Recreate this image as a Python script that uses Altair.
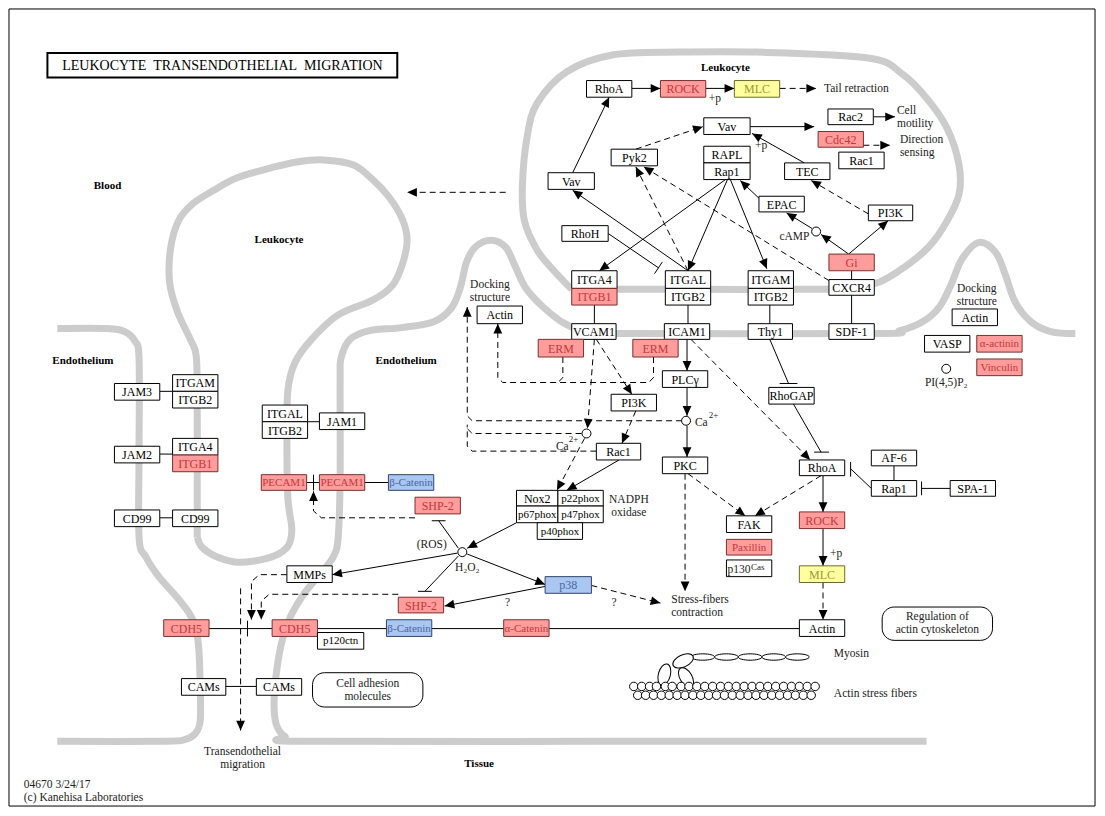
import math
import altair as alt
import pandas as pd

# reference frame in px (y grows downwards)
FRAME_W, FRAME_H = 1105, 816

XS = alt.Scale(domain=[0, FRAME_W], nice=False, zero=False)
YS = alt.Scale(domain=[0, FRAME_H], nice=False, zero=False, reverse=True)

# ---------------- gene boxes: (label, kind, left, top, right, bottom)
leukocyte_boxes = [
    ("RhoA", "plain", 587, 74, 633, 91),
    ("ROCK", "red", 662, 74, 708, 91),
    ("MLC", "yellow", 737, 74, 783, 91),
    ("Vav", "plain", 706, 112, 753, 129),
    ("Pyk2", "plain", 612, 144, 659, 161),
    ("RAPL", "plain", 706, 141, 753, 158),
    ("Rap1", "plain", 706, 158, 753, 175),
    ("Vav", "plain", 548, 168, 595, 185),
    ("RhoH", "plain", 562, 222, 609, 238),
    ("Rac2", "plain", 832, 103, 878, 119),
    ("Cdc42", "red", 822, 126, 868, 142),
    ("Rac1", "plain", 843, 147, 889, 164),
    ("TEC", "plain", 788, 158, 834, 175),
    ("EPAC", "plain", 762, 192, 808, 208),
    ("PI3K", "plain", 873, 201, 918, 217),
    ("Gi", "red", 833, 251, 879, 268),
    ("CXCR4", "plain", 833, 277, 879, 293),
    ("ITGA4", "plain", 572, 268, 618, 286),
    ("ITGB1", "red", 572, 286, 618, 303),
    ("ITGAL", "plain", 667, 268, 713, 286),
    ("ITGB2", "plain", 667, 286, 713, 303),
    ("ITGAM", "plain", 751, 268, 797, 286),
    ("ITGB2", "plain", 751, 286, 797, 303),
]

endothelium_boxes = [
    ("Actin", "plain", 476, 304, 522, 322),
    ("VCAM1", "plain", 572, 322, 617, 338),
    ("ERM", "red", 538, 338, 584, 356),
    ("ICAM1", "plain", 666, 322, 712, 338),
    ("ERM", "red", 634, 338, 680, 356),
    ("Thy1", "plain", 751, 322, 796, 338),
    ("SDF-1", "plain", 833, 322, 879, 338),
    ("Actin", "plain", 958, 307, 1004, 324),
    ("VASP", "plain", 930, 334, 976, 351),
    ("α-actinin", "red", 983, 334, 1029, 351),
    ("Vinculin", "red", 983, 358, 1029, 375),
    ("PLCγ", "plain", 664, 370, 710, 387),
    ("PI3K", "plain", 612, 394, 658, 411),
    ("RhoGAP", "plain", 772, 387, 818, 404),
    ("Rac1", "plain", 597, 444, 642, 461),
    ("PKC", "plain", 664, 458, 710, 475),
    ("RhoA", "plain", 803, 461, 849, 477),
    ("AF-6", "plain", 876, 451, 922, 467),
    ("Rap1", "plain", 876, 482, 922, 498),
    ("SPA-1", "plain", 956, 482, 1002, 498),
    ("Nox2", "plain", 516, 492, 558, 508),
    ("p22phox", "plain", 558, 492, 604, 508),
    ("p67phox", "plain", 516, 508, 558, 525),
    ("p47phox", "plain", 558, 508, 604, 525),
    ("p40phox", "plain", 537, 525, 583, 542),
    ("SHP-2", "red", 413, 499, 459, 516),
    ("FAK", "plain", 729, 518, 775, 535),
    ("Paxillin", "red", 729, 542, 775, 558),
    ("", "plain", 729, 563, 775, 580),
    ("ROCK", "red", 803, 514, 849, 531),
    ("MLC", "yellow", 803, 569, 849, 586),
    ("p38", "blue", 545, 580, 592, 597),
    ("SHP-2", "red", 396, 601, 442, 617),
]

junction_boxes = [
    ("JAM3", "plain", 108, 383, 154, 400),
    ("ITGAM", "plain", 167, 374, 213, 391),
    ("ITGB2", "plain", 167, 391, 213, 408),
    ("JAM2", "plain", 108, 447, 154, 464),
    ("ITGA4", "plain", 167, 439, 213, 456),
    ("ITGB1", "red", 167, 456, 213, 473),
    ("CD99", "plain", 108, 512, 154, 529),
    ("CD99", "plain", 167, 512, 213, 529),
    ("ITGAL", "plain", 258, 405, 304, 422),
    ("ITGB2", "plain", 258, 422, 304, 439),
    ("JAM1", "plain", 316, 413, 362, 430),
    ("PECAM1", "red", 257, 476, 303, 492),
    ("PECAM1", "red", 316, 476, 362, 492),
    ("β-Catenin", "blue", 386, 476, 432, 492),
    ("MMPs", "plain", 283, 569, 329, 586),
    ("CDH5", "red", 158, 624, 204, 641),
    ("CDH5", "red", 268, 624, 314, 641),
    ("p120ctn", "plain", 314, 637, 361, 654),
    ("β-Catenin", "blue", 384, 624, 430, 641),
    ("α-Catenin", "red", 503, 624, 549, 641),
    ("Actin", "plain", 803, 624, 849, 641),
    ("CAMs", "plain", 176, 684, 221, 701),
    ("CAMs", "plain", 252, 684, 298, 701),
]

small_labels = {"α-actinin", "Vinculin", "Paxillin", "β-Catenin", "α-Catenin",
                "p22phox", "p67phox", "p47phox", "p40phox", "PECAM1", "p120ctn"}

kinds = ["plain", "red", "yellow", "blue"]
kind_fill = ["#ffffff", "#ff9c9c", "#ffff9e", "#a9c7f0"]
kind_edge = ["#000000", "#7a3030", "#6e6a30", "#33436e"]
kind_text = ["#000000", "#c23a3a", "#9c963a", "#4a66a6"]

# ---------------- gray membranes (outline points)
leukocyte_top = [(572, 287), (553, 267), (537, 247), (524, 217), (522, 180), (527, 130),
                 (537, 97), (567, 65), (613, 48), (680, 45), (760, 45), (873, 51),
                 (907, 67), (933, 93), (953, 123), (965, 160), (965, 190), (953, 217),
                 (935, 243), (910, 264), (883, 280), (850, 286), (800, 287), (700, 287),
                 (620, 287), (572, 287)]
leukocyte_mid = [(192, 540), (192, 480), (192, 400), (191, 355), (185, 338), (172, 310),
                 (164, 280), (165, 245), (173, 217), (187, 200), (207, 187), (233, 173),
                 (267, 163), (293, 157), (320, 155), (350, 160), (370, 175), (386, 192),
                 (400, 215), (405, 237), (400, 262), (390, 283), (370, 298), (335, 313),
                 (308, 338), (291, 362), (284, 390), (283, 440), (284, 500), (288, 532),
                 (284, 549), (270, 559), (250, 564), (230, 565), (210, 559), (197, 550),
                 (192, 540)]
endothelium_left = [(50, 327), (100, 327), (118, 330), (129, 340), (133, 358), (133, 450),
                    (133, 540), (140, 560), (153, 580), (173, 603), (187, 623), (193, 647),
                    (195, 690), (195, 727), (190, 740), (180, 746), (160, 748), (50, 748)]
endothelium_right = [(932, 748), (600, 748), (300, 748), (281, 743), (272, 730), (270, 707),
                     (273, 673), (279, 642), (287, 620), (300, 598), (317, 577), (330, 560),
                     (335, 540), (337, 480), (337, 380), (338, 357), (347, 338), (367, 329),
                     (400, 326), (432, 320), (450, 306), (459, 285), (465, 260), (474, 244),
                     (490, 237), (505, 244), (514, 262), (525, 285), (543, 305), (565, 322),
                     (590, 331), (620, 332), (880, 332), (905, 329), (928, 320), (945, 305),
                     (957, 282), (968, 256), (985, 239), (1002, 249), (1012, 272),
                     (1022, 300), (1038, 320), (1058, 330), (1083, 332)]
membranes = [leukocyte_top, leukocyte_mid, endothelium_left, endothelium_right]

# ---------------- relations
solid_arrows = [
    [(633, 82), (662, 82)], [(708, 82), (737, 82)], [(573, 168), (610, 91)],
    [(753, 121), (818, 121)], [(808, 158), (755, 128)], [(878, 111), (900, 111)],
    [(853, 251), (893, 217)], [(816, 225), (790, 209)], [(853, 251), (825, 231)],
    [(762, 194), (743, 176)], [(690, 268), (573, 186)], [(728, 175), (600, 268)],
    [(730, 175), (690, 268)], [(733, 175), (770, 266)], [(689, 338), (689, 370)],
    [(689, 387), (689, 416)], [(689, 426), (689, 458)], [(620, 461), (567, 492)],
    [(827, 477), (827, 514)], [(827, 531), (827, 569)], [(516, 525), (466, 551)],
    [(466, 557), (545, 588)], [(456, 556), (329, 578)], [(545, 590), (443, 610)],
]
dashed_arrows = [
    [(783, 82), (820, 82)], [(868, 140), (895, 140)], [(637, 144), (705, 121)],
    [(873, 210), (815, 176)], [(833, 278), (645, 162)], [(690, 268), (637, 162)],
    [(505, 188), (405, 188)],
    [(655, 356), (655, 377), (650, 382), (502, 382), (497, 377), (497, 322)],
    [(597, 338), (633, 394)], [(595, 338), (588, 429)], [(637, 411), (623, 444)],
    [(585, 439), (557, 492)],
    [(684, 421), (471, 421), (466, 416), (466, 305)],
    [(690, 475), (748, 518)], [(687, 475), (687, 595)], [(693, 338), (814, 461)],
    [(825, 477), (758, 518)], [(827, 586), (827, 624)], [(592, 589), (662, 607)],
    [(413, 520), (318, 520), (310, 513), (310, 493)],
    [(396, 598), (265, 598), (257, 605), (257, 624)],
    [(283, 578), (255, 578), (247, 585), (247, 624)],
    [(236, 592), (236, 737)],
]
dashed_links = [
    [(563, 356), (563, 377), (558, 382)],
    [(582, 434), (471, 434), (466, 429)],
    [(597, 452), (471, 452), (466, 447), (466, 425)],
]
solid_links = [
    [(595, 303), (595, 322)], [(690, 303), (690, 322)], [(773, 303), (773, 322)],
    [(856, 268), (856, 277)], [(856, 293), (856, 322)], [(899, 467), (899, 482)],
    [(154, 391), (167, 391)], [(154, 455), (167, 455)], [(154, 520), (167, 520)],
    [(304, 422), (316, 422)], [(303, 484), (316, 484)], [(362, 484), (386, 484)],
    [(204, 633), (268, 633)], [(314, 633), (384, 633)], [(430, 633), (503, 633)],
    [(549, 633), (803, 633)], [(221, 692), (252, 692)],
    # inhibitions and their bars
    [(609, 230), (660, 265)], [(656, 271), (664, 259)],
    [(773, 338), (792, 383)], [(783, 383), (801, 383)],
    [(797, 404), (825, 453)], [(818, 453), (833, 453)],
    [(876, 490), (855, 470)], [(855, 463), (855, 478)],
    [(956, 490), (927, 490)], [(927, 483), (927, 497)],
    [(457, 551), (437, 523)], [(430, 523), (444, 523)],
    [(457, 559), (423, 595)], [(416, 595), (430, 595)],
    [(243, 625), (243, 641)], [(310, 476), (310, 492)],
]

# small compounds: cAMP, Ca2+, Ca2+, H2O2, PI(4,5)P2
compound_x = [820, 688, 587, 461, 952]
compound_y = [228, 421, 434, 555, 368]

# myosin filament and actin stress fibres
myosin_x = [705, 729, 753, 777, 801]
myosin_y = [662, 662, 662, 662, 662]
head_x = [685, 666, 688]
head_y = [666, 680, 683]
head_angle = [335, 105, 60]
actin_top_x = [635, 643, 651, 658, 667, 674, 683, 691, 699, 707, 715, 723,
               731, 739, 747, 755, 763, 771, 779, 787, 795, 803, 811, 819]
actin_bottom_x = [639, 647, 655, 663, 671, 679, 687, 695, 703, 711, 719, 727,
                  735, 743, 751, 759, 767, 775, 783, 791, 799, 807, 815]

# ---------------- texts (y of the first line)
region_labels = [("Leukocyte", 728, 61), ("Blood", 101, 182), ("Leukocyte", 275, 237),
                 ("Endothelium", 76, 360), ("Endothelium", 404, 360), ("Tissue", 478, 771)]
centred_notes = [("Docking\nstructure", 489, 283), ("Docking\nstructure", 983, 287),
                 ("NADPH\noxidase", 630, 502), ("(ROS)", 430, 548), ("H₂O₂", 466, 571),
                 ("PI(4,5)P₂", 952, 383), ("?", 507, 607), ("?", 615, 607),
                 ("Regulation of\nactin cytoskeleton", 943, 621),
                 ("Cell adhesion\nmolecules", 365, 690),
                 ("Transendothelial\nmigration", 238, 759), ("cAMP", 798, 234)]
left_notes = [("Tail retraction", 828, 83), ("Cell\nmotility", 902, 105),
              ("Direction\nsensing", 905, 135), ("+p", 711, 93),
              ("+p", 758, 141), ("+p", 834, 557), ("Stress-fibers\ncontraction", 673, 604),
              ("Myosin", 838, 659), ("Actin stress fibers", 838, 700),
              ("04670 3/24/17\n(c) Kanehisa Laboratories", 16, 793),
              ("Ca", 697, 423), ("Ca", 556, 448), ("p130", 730, 573)]
superscripts = [("2+", 711, 415), ("2+", 569, 440), ("Cas", 754, 570)]
title_text = "LEUKOCYTE\u00a0\u00a0TRANSENDOTHELIAL\u00a0\u00a0MIGRATION"

FONT = "Liberation Serif, Times New Roman, serif"


def xy(xf="x", yf="y"):
    return {"x": alt.X(f"{xf}:Q", scale=XS, axis=None),
            "y": alt.Y(f"{yf}:Q", scale=YS, axis=None)}


def path_frame(paths, tag):
    rows = []
    for i, pts in enumerate(paths):
        for j, (px, py) in enumerate(pts):
            rows.append({"pid": f"{tag}{i}", "seq": j, "x": px, "y": py})
    return pd.DataFrame(rows)


def head_frame(paths):
    rows = []
    for pts in paths:
        (x0, y0), (x1, y1) = pts[-2], pts[-1]
        ang = math.degrees(math.atan2(x1 - x0, -(y1 - y0))) % 360
        rows.append({"x": x1, "y": y1, "angle": ang})
    return pd.DataFrame(rows)


boxes = pd.DataFrame(leukocyte_boxes + endothelium_boxes + junction_boxes,
                     columns=["label", "kind", "x0", "y0", "x1", "y1"])
boxes["cx"] = (boxes.x0 + boxes.x1) / 2
boxes["cy"] = (boxes.y0 + boxes.y1) / 2 + 0.5
boxes["fs"] = [11 if t in small_labels else 12 for t in boxes.label]

membrane = alt.Chart(path_frame(membranes, "m")).mark_line(
    color="#cccccc", strokeWidth=7, interpolate="cardinal", strokeCap="butt"
).encode(**xy(), detail="pid:N", order="seq:Q")

solid = alt.Chart(path_frame(solid_arrows + solid_links, "s")).mark_line(
    color="black", strokeWidth=1
).encode(**xy(), detail="pid:N", order="seq:Q")

dashed = alt.Chart(path_frame(dashed_arrows + dashed_links, "d")).mark_line(
    color="black", strokeWidth=1, strokeDash=[6, 4]
).encode(**xy(), detail="pid:N", order="seq:Q")

heads = alt.Chart(head_frame(solid_arrows + dashed_arrows)).mark_point(
    shape="M0,0L0.45,1L-0.45,1Z", size=380, filled=True, color="black", opacity=1
).encode(**xy(), angle=alt.Angle("angle:Q", scale=alt.Scale(domain=[0, 360], range=[0, 360])))

rects = alt.Chart(boxes).mark_rect(strokeWidth=1).encode(
    x=alt.X("x0:Q", scale=XS, axis=None), x2="x1:Q",
    y=alt.Y("y0:Q", scale=YS, axis=None), y2="y1:Q",
    fill=alt.Fill("kind:N", scale=alt.Scale(domain=kinds, range=kind_fill), legend=None),
    stroke=alt.Stroke("kind:N", scale=alt.Scale(domain=kinds, range=kind_edge), legend=None),
)

labels = alt.Chart(boxes).mark_text(font=FONT, baseline="middle", align="center").encode(
    **xy("cx", "cy"), text="label:N",
    size=alt.Size("fs:Q", scale=None),
    color=alt.Color("kind:N", scale=alt.Scale(domain=kinds, range=kind_text), legend=None),
)

compounds = alt.Chart(pd.DataFrame({"x": compound_x, "y": compound_y})).mark_point(
    shape="circle", size=80, filled=True, fill="white", stroke="black", strokeWidth=1, opacity=1
).encode(**xy())

myosin = alt.Chart(pd.DataFrame({"x": myosin_x, "y": myosin_y})).mark_point(
    shape="M-1,0A1,0.27,0,1,0,1,0A1,0.27,0,1,0,-1,0Z", size=560, filled=True,
    fill="white", stroke="black", strokeWidth=1, opacity=1
).encode(**xy())

heads_myo = alt.Chart(pd.DataFrame({"x": head_x, "y": head_y, "angle": head_angle})).mark_point(
    shape="M-1,0A1,0.55,0,1,0,1,0A1,0.55,0,1,0,-1,0Z", size=480, filled=True,
    fill="white", stroke="black", strokeWidth=1, opacity=1
).encode(**xy(), angle=alt.Angle("angle:Q", scale=alt.Scale(domain=[0, 360], range=[0, 360])))

actin_df = pd.DataFrame({"x": actin_top_x + actin_bottom_x,
                         "y": [692] * len(actin_top_x) + [701] * len(actin_bottom_x)})
actin = alt.Chart(actin_df).mark_point(
    shape="circle", size=72, filled=True, fill="white", stroke="black", strokeWidth=1, opacity=1
).encode(**xy())

regions = alt.Chart(pd.DataFrame(region_labels, columns=["t", "x", "y"])).mark_text(
    font=FONT, fontSize=11, fontWeight="bold", align="center", baseline="middle", color="black"
).encode(**xy(), text="t:N")

notes_c = alt.Chart(pd.DataFrame(centred_notes, columns=["t", "x", "y"])).mark_text(
    font=FONT, fontSize=11.5, align="center", baseline="middle", color="#222222",
    lineBreak="\n", lineHeight=13
).encode(**xy(), text="t:N")

notes_l = alt.Chart(pd.DataFrame(left_notes, columns=["t", "x", "y"])).mark_text(
    font=FONT, fontSize=11.5, align="left", baseline="middle", color="#222222",
    lineBreak="\n", lineHeight=13
).encode(**xy(), text="t:N")

sups = alt.Chart(pd.DataFrame(superscripts, columns=["t", "x", "y"])).mark_text(
    font=FONT, fontSize=9, align="left", baseline="middle", color="#222222"
).encode(**xy(), text="t:N")

frames = pd.DataFrame({"x0": [1, 40, 887, 309], "y0": [1, 46, 611, 678],
                       "x1": [1103, 395, 999, 421], "y1": [814, 71, 645, 713],
                       "w": [1, 2, 1, 1]})
outer = alt.Chart(frames.iloc[:2]).mark_rect(fill=None, stroke="black").encode(
    x=alt.X("x0:Q", scale=XS, axis=None), x2="x1:Q",
    y=alt.Y("y0:Q", scale=YS, axis=None), y2="y1:Q",
    strokeWidth=alt.StrokeWidth("w:Q", scale=None),
)
rounded = alt.Chart(frames.iloc[2:]).mark_rect(fill=None, stroke="black", cornerRadius=12).encode(
    x=alt.X("x0:Q", scale=XS, axis=None), x2="x1:Q",
    y=alt.Y("y0:Q", scale=YS, axis=None), y2="y1:Q",
)

title = alt.Chart(pd.DataFrame({"t": [title_text], "x": [55], "y": [59]})).mark_text(
    font=FONT, fontSize=14, align="left", baseline="middle", color="black"
).encode(**xy(), text="t:N")

chart = alt.layer(
    membrane, outer, rounded, solid, dashed, rects, labels, heads, compounds,
    myosin, heads_myo, actin, regions, notes_c, notes_l, sups, title
).properties(
    width=1089, height=800, padding=0, autosize=alt.AutoSizeParams(type="none"),
    background="white",
).configure_view(stroke=None)

chart.save("out.html", embed_options={"renderer": "svg", "actions": False})
